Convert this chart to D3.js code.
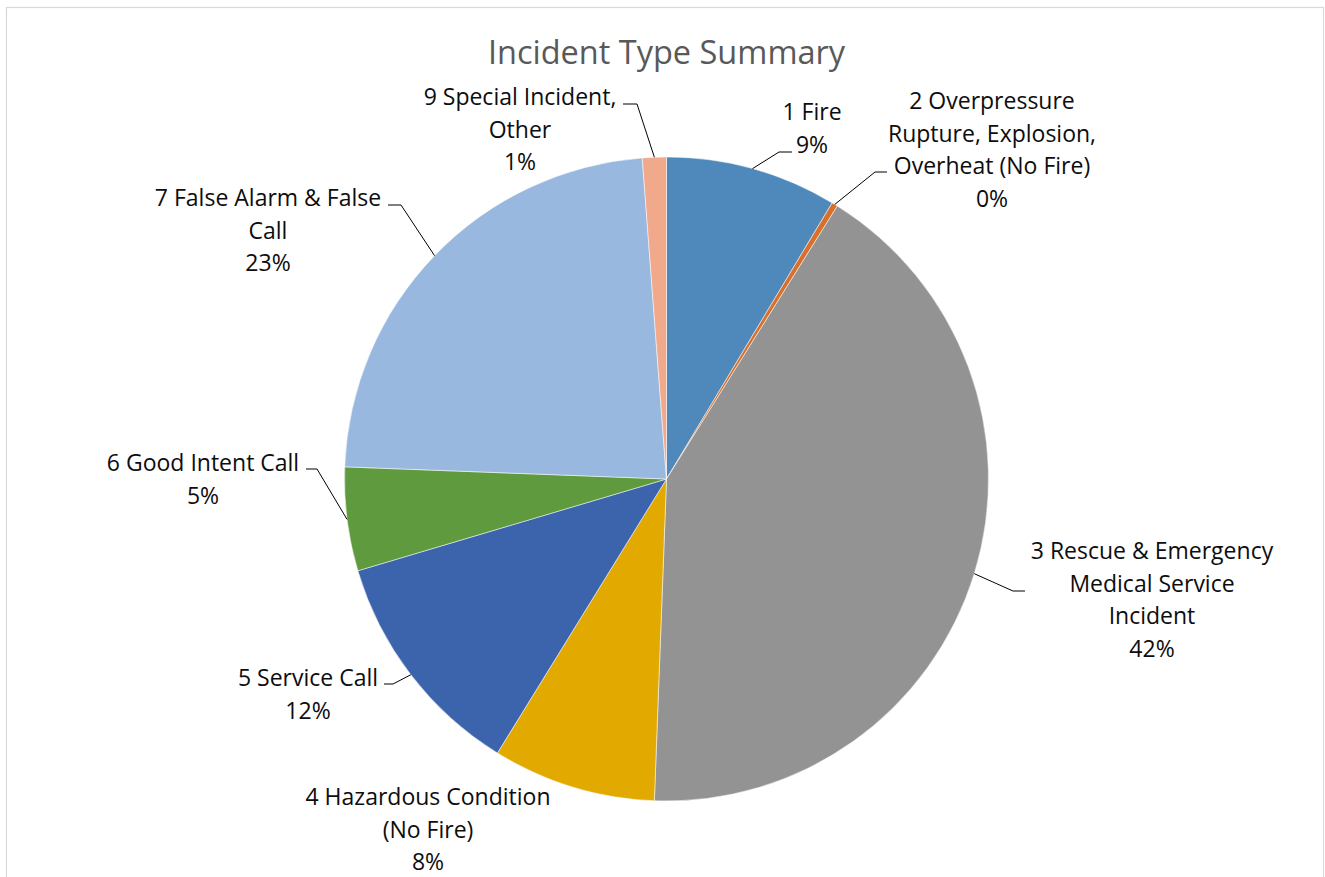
<!DOCTYPE html>
<html><head><meta charset="utf-8">
<script src="https://cdn.jsdelivr.net/npm/d3@7"></script>
<style>html,body{margin:0;padding:0;background:#fff;}svg{display:block;}</style>
</head><body>
<svg id="chart" width="1325" height="877"></svg>
<script>
// ---- data ----
const categories = ["1 Fire", "2 Overpressure Rupture, Explosion, Overheat (No Fire)", "3 Rescue & Emergency Medical Service Incident", "4 Hazardous Condition (No Fire)", "5 Service Call", "6 Good Intent Call", "7 False Alarm & False Call", "9 Special Incident, Other"];
const values = [8.6, 0.3, 41.7, 8.2, 11.6, 5.2, 23.2, 1.2];
const labelLines = [
  ["1 Fire"],
  ["2 Overpressure", "Rupture, Explosion,", "Overheat (No Fire)"],
  ["3 Rescue & Emergency", "Medical Service", "Incident"],
  ["4 Hazardous Condition", "(No Fire)"],
  ["5 Service Call"],
  ["6 Good Intent Call"],
  ["7 False Alarm & False", "Call"],
  ["9 Special Incident,", "Other"]
];
const colors = ["#4f89bc", "#d8702b", "#939393", "#e2aa00", "#3c64ad", "#609a3e", "#99b8df", "#f0a98b"];
const title = "Incident Type Summary";

// ---- layout ----
const W = 1325, H = 877;
const cx = 666.5, cy = 479, R = 322;
const FONT = "'Open Sans', 'Noto Sans', sans-serif";
const lineH = 32.5;
// label text centre x, first baseline y; leader elbow and end (null = no leader)
const labelPos = [
  {x: 812, y: 120, elbow: [779, 152], end: [792, 152]},
  {x: 992, y: 109, elbow: [875, 172], end: [887, 172]},
  {x: 1152, y: 559, elbow: [1013, 591], end: [1025, 591]},
  {x: 428, y: 805, elbow: null},
  {x: 308, y: 686, elbow: [393, 684], end: [384, 684]},
  {x: 203, y: 471, elbow: [317, 469], end: [306, 469]},
  {x: 268, y: 206, elbow: [401, 205], end: [388, 205]},
  {x: 520, y: 105, elbow: [637, 104], end: [623, 104]}
];

const svg = d3.select("#chart");
svg.append("rect").attr("x", 0).attr("y", 0).attr("width", W).attr("height", H).attr("fill", "#fff");
svg.append("rect").attr("x", 6.5).attr("y", 7.5).attr("width", 1317).attr("height", H + 20)
  .attr("fill", "none").attr("stroke", "#d9d9d9").attr("stroke-width", 1.2);

svg.append("text").attr("x", cx).attr("y", 64).attr("text-anchor", "middle")
  .attr("font-family", FONT).attr("font-size", 32.5).attr("fill", "#595959").text(title);

const data = categories.map((c, i) => ({cat: c, value: values[i], i}));
const pie = d3.pie().value(d => d.value).sort(null);
const arcs = pie(data);
const arc = d3.arc().innerRadius(0).outerRadius(R);

const g = svg.append("g").attr("transform", `translate(${cx},${cy})`);
g.selectAll("path.slice").data(arcs).join("path")
  .attr("class", "slice")
  .attr("d", arc)
  .attr("fill", d => colors[d.data.i])
  .attr("stroke", "#fff").attr("stroke-width", 0.5);

const fmt = v => Math.round(v) + "%";

arcs.forEach((a, i) => {
  const p = labelPos[i];
  if (p.elbow) {
    const mid = (a.startAngle + a.endAngle) / 2;
    const rx = cx + R * Math.sin(mid), ry = cy - R * Math.cos(mid);
    svg.append("path")
      .attr("d", d3.line()([[rx, ry], p.elbow, p.end]))
      .attr("fill", "none").attr("stroke", "#000").attr("stroke-width", 1);
  }
  const lines = labelLines[i].concat([fmt(a.data.value)]);
  const t = svg.append("text").attr("text-anchor", "middle")
    .attr("font-family", FONT).attr("font-size", 23).attr("fill", "#0d0d0d");
  lines.forEach((ln, k) => {
    t.append("tspan").attr("x", p.x).attr("y", p.y + k * lineH).text(ln);
  });
});
</script>
</body></html>
